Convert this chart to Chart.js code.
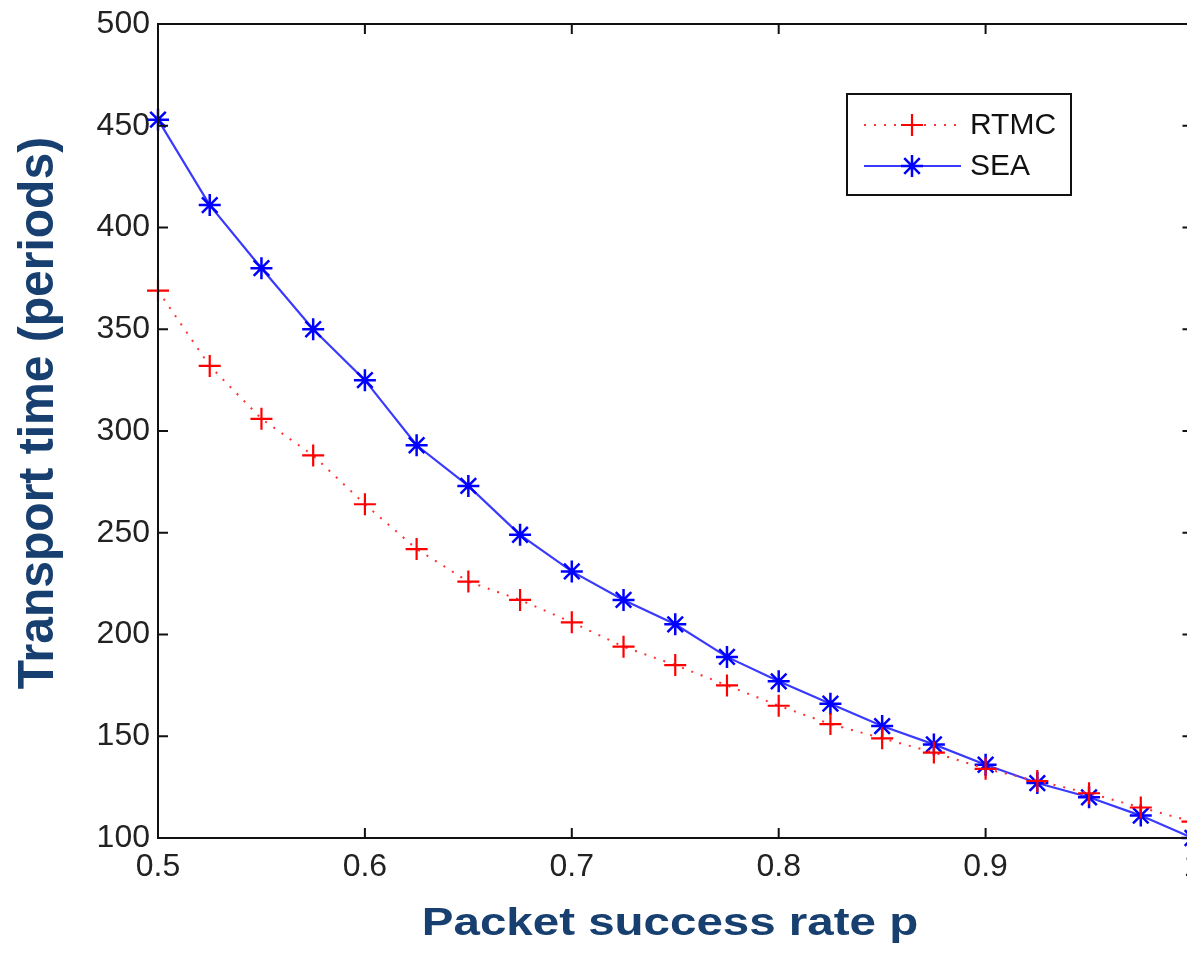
<!DOCTYPE html>
<html>
<head>
<meta charset="utf-8">
<script src="https://cdn.jsdelivr.net/npm/chart.js@4/dist/chart.umd.min.js"></script>
<style>
html,body{margin:0;padding:0;background:#fff;overflow:hidden;}
#wrap{position:relative;width:1206px;height:954px;}
</style>
</head>
<body>
<div id="wrap"><canvas id="c" width="1206" height="954"></canvas></div>
<script>
const pValues = [0.5,0.525,0.55,0.575,0.6,0.625,0.65,0.675,0.7,0.725,0.75,0.775,0.8,0.825,0.85,0.875,0.9,0.925,0.95,0.975,1.0];
const rtmc = [369,332,306,288,264,242,226,217,206,194,185,175,165,156,149,142,134,128,122,115,108];
const sea  = [453,411,380,350,325,293,273,249,231,217,205,189,177,166,155,146,136,127,120,111,100];
const seriesNames = ['RTMC','SEA'];
const xTicks = [0.5,0.6,0.7,0.8,0.9,1.0];
const yTicks = [100,150,200,250,300,350,400,450,500];
const xTitle = 'Packet success rate p';
const yTitle = 'Transport time (periods)';

const titleColor = '#173f6f';
const tickFont = {family:'Liberation Sans, Arial, sans-serif', size:32};

const frame = {
  id:'frame',
  afterDraw(chart){
    const {ctx, chartArea:a, scales:{x,y}} = chart;
    ctx.save();
    ctx.strokeStyle = '#111';
    ctx.lineWidth = 2;
    ctx.strokeRect(a.left, a.top, a.right-a.left, a.bottom-a.top);
    ctx.beginPath();
    const L = 10;
    xTicks.forEach(v=>{
      const px = x.getPixelForValue(v);
      ctx.moveTo(px,a.bottom); ctx.lineTo(px,a.bottom-L);
      ctx.moveTo(px,a.top); ctx.lineTo(px,a.top+L);
    });
    yTicks.forEach(v=>{
      const py = y.getPixelForValue(v);
      ctx.moveTo(a.left,py); ctx.lineTo(a.left+L,py);
      ctx.moveTo(a.right,py); ctx.lineTo(a.right-L,py);
    });
    ctx.stroke();

    // axis titles
    ctx.fillStyle = titleColor;
    ctx.textAlign = 'center';
    ctx.textBaseline = 'alphabetic';
    ctx.save();
    ctx.translate(670, 935);
    ctx.scale(1.25, 1);
    ctx.font = 'bold 38px Liberation Sans, Arial, sans-serif';
    ctx.fillText(xTitle, 0, 0);
    ctx.restore();
    ctx.save();
    ctx.translate(53, 413);
    ctx.rotate(-Math.PI/2);
    ctx.scale(0.98, 1.02);
    ctx.font = 'bold 49px Liberation Sans, Arial, sans-serif';
    ctx.fillText(yTitle, 0, 0);
    ctx.restore();

    // legend
    const lx = 847, ly = 94, lw = 224, lh = 101;
    ctx.fillStyle = '#fff';
    ctx.fillRect(lx, ly, lw, lh);
    ctx.strokeStyle = '#111';
    ctx.lineWidth = 2;
    ctx.strokeRect(lx, ly, lw, lh);
    const ds = chart.data.datasets;
    const rows = [125, 166];
    ds.forEach((d,i)=>{
      const yy = rows[i];
      ctx.save();
      ctx.strokeStyle = d.borderColor;
      ctx.lineWidth = 2;
      ctx.setLineDash(d.borderDash || []);
      ctx.beginPath(); ctx.moveTo(864,yy); ctx.lineTo(961,yy); ctx.stroke();
      ctx.restore();
      ctx.save();
      ctx.strokeStyle = d.pointBorderColor;
      ctx.lineWidth = d.pointBorderWidth;
      Chart.helpers.drawPoint(ctx, {pointStyle:d.pointStyle, radius:d.pointRadius, borderWidth:d.pointBorderWidth}, 912, yy);
      ctx.restore();
      ctx.fillStyle = '#111';
      ctx.font = '30px Liberation Sans, Arial, sans-serif';
      ctx.textAlign = 'left';
      ctx.textBaseline = 'middle';
      ctx.fillText(d.label, 970, yy+1);
    });
    ctx.restore();
  }
};

new Chart(document.getElementById('c'), {
  type:'line',
  data:{
    datasets:[
      {label:seriesNames[0], data:pValues.map((p,i)=>({x:p,y:rtmc[i]})),
       borderColor:'#ff3030', borderWidth:2, borderDash:[2,8], pointStyle:'cross',
       pointRadius:11, pointBorderColor:'#ff0000', pointBorderWidth:2.2, fill:false, tension:0},
      {label:seriesNames[1], data:pValues.map((p,i)=>({x:p,y:sea[i]})),
       borderColor:'#3a3aff', borderWidth:2.2, pointStyle:'star',
       pointRadius:11, pointBorderColor:'#0000ff', pointBorderWidth:2.5, fill:false, tension:0}
    ]
  },
  options:{
    responsive:false,
    animation:false,
    clip:false,
    layout:{padding:{top:24,right:2,left:0,bottom:0}},
    plugins:{legend:{display:false}, tooltip:{enabled:false}},
    scales:{
      x:{type:'linear', min:0.5, max:1.0,
         afterBuildTicks(s){ s.ticks = xTicks.map(v=>({value:v})); },
         afterFit(s){ s.height = 116; s.paddingLeft = 0; s.paddingRight = 0; },
         grid:{display:false, drawTicks:false},
         border:{display:false},
         ticks:{font:tickFont, color:'#222', padding:10, maxRotation:0, autoSkip:false,
                callback:v=> v===1 ? '1' : String(v)}},
      y:{type:'linear', min:100, max:500,
         afterBuildTicks(s){ s.ticks = yTicks.map(v=>({value:v})); },
         afterFit(s){ s.width = 158; s.paddingTop = 0; s.paddingBottom = 0; },
         grid:{display:false, drawTicks:false},
         border:{display:false},
         ticks:{font:tickFont, color:'#222', padding:8, autoSkip:false}}
    }
  },
  plugins:[frame]
});
</script>
</body>
</html>
